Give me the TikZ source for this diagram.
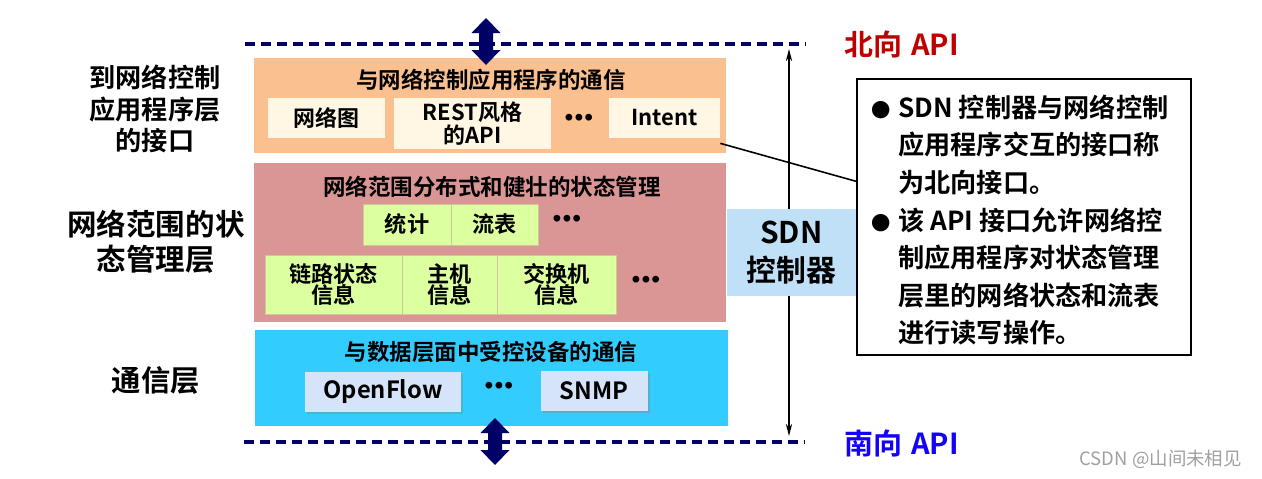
\documentclass[tikz,border=0pt]{standalone}
\usepackage{fontspec}
\setmainfont{Noto Sans CJK SC}[BoldFont={Noto Sans CJK SC Bold}]
\newfontfamily\dotfont{Liberation Sans}
\usetikzlibrary{arrows.meta,shadows}

\definecolor{apinavy}{HTML}{000066}
\definecolor{northred}{HTML}{C00000}
\definecolor{southblue}{HTML}{1400FF}
\definecolor{appfill}{HTML}{FAC090}
\definecolor{statelayer}{HTML}{D99694}
\definecolor{commfill}{HTML}{33CCFF}
\definecolor{creamfill}{HTML}{FFF6E3}
\definecolor{statefill}{HTML}{DCFFA0}
\definecolor{stateline}{HTML}{D2C49C}
\definecolor{protofill}{HTML}{D5E4F9}
\definecolor{ctrlfill}{HTML}{BFE0F6}
\definecolor{markgray}{HTML}{A0A0A0}

\def\pxu{0.02cm}
\def\threedots{•\kern0.9pt•\kern0.9pt•}
\def\bigdot{\llap{{\fontsize{11}{11}\selectfont ●}\hspace{4.5pt}}}

\begin{document}
\begin{tikzpicture}[
    x=0.02cm,y=-0.02cm,
    boxsize/.style args={#1x#2}{minimum width=#1*\pxu,minimum height=#2*\pxu},
    layerbox/.style={rectangle,inner sep=0,fill=#1},
    itembox/.style={
        rectangle,inner sep=0,fill=creamfill,align=center,
        font=\fontsize{12.5}{11.5}\selectfont\bfseries
    },
    statebox/.style={
        rectangle,inner sep=0,fill=statefill,draw=stateline,line width=0.5pt,
        align=center,font=\fontsize{12.6}{12.3}\selectfont\bfseries
    },
    protobox/.style={
        rectangle,inner sep=0,fill=protofill,
        drop shadow={shadow xshift=1.2pt,shadow yshift=-1.2pt,opacity=0.35},
        font=\fontsize{13.5}{14}\selectfont\bfseries
    },
    layertitle/.style={font=\fontsize{12.8}{14}\selectfont\bfseries},
    sidelabel/.style args={#1/#2}{align=center,font=\fontsize{#1}{#2}\selectfont\bfseries},
    moredots/.style={font=\dotfont\fontsize{13.5}{13.5}\selectfont\bfseries,inner sep=0},
    dashline/.style={apinavy,line width=1.9pt,dash pattern=on 5.7pt off 3.4pt},
    apiarrow/.style={fill=apinavy},
    ctrlarrow/.style={
        line width=0.85pt,
        {Stealth[length=7pt,width=3.6pt]}-{Stealth[length=7pt,width=3.6pt]}
    },
    apilabel/.style={font=\fontsize{16.5}{18}\selectfont\bfseries,text=#1}
]
\useasboundingbox (0,0) rectangle (1262,478);

% ------------------------------------------------
% Layers
% ------------------------------------------------
\node[layerbox=appfill,boxsize=472x95] (applayer) at (490,105.5) {};
\node[layerbox=statelayer,boxsize=472x159] (statelayer) at (490,242) {};
\node[layerbox=commfill,boxsize=473x96] (commlayer) at (491,378) {};

% ------------------------------------------------
% Northbound / southbound borders
% ------------------------------------------------
\coordinate (northL) at (245,44);
\coordinate (northR) at (805,44);
\coordinate (southL) at (244,442);
\coordinate (southR) at (805,442);
\draw[dashline] (northL) -- (northR);
\draw[dashline] (southL) -- (southR);

\foreach \ax/\ay in {486/18,495/418}
    \fill[apiarrow] (\ax,\ay) -- ++(14.5,15) -- ++(-7.5,0) -- ++(0,17)
        -- ++(7.5,0) -- ++(-14.5,15) -- ++(-14.5,-15) -- ++(7.5,0)
        -- ++(0,-17) -- ++(-7.5,0) -- cycle;

\node[apilabel=northred,anchor=west] (northapi) at (838,44) {北向\hspace{1.5pt} API};
\node[apilabel=southblue,anchor=west] (southapi) at (838,443) {南向\hspace{1.5pt} API};

% ------------------------------------------------
% Application interface layer
% ------------------------------------------------
\node[layertitle] (apptitle) at (491,80) {与网络控制应用程序的通信};
\node[itembox,boxsize=117x40] (netgraph) at (326.5,118) {网络图};
\node[itembox,boxsize=157x51] (restapi) at (472.5,123.5) {REST风格\\的API};
\node[moredots] (appdots) at (579,120) {\threedots};
\node[itembox,boxsize=111x40] (intent) at (664.5,118) {Intent};

% ------------------------------------------------
% State management layer
% ------------------------------------------------
\node[layertitle] (statetitle) at (492,187) {网络范围分布式和健壮的状态管理};
\node[statebox,boxsize=88x41] (stats) at (407,224.5) {统计};
\node[statebox,boxsize=87x41] (flows) at (494.5,224.5) {流表};
\node[moredots] (statedots) at (567,221) {\threedots};
\node[statebox,boxsize=137x59] (linkinfo) at (333.5,284.5) {链路状态\\信息};
\node[statebox,boxsize=95x59] (hostinfo) at (449.5,284.5) {主机\\信息};
\node[statebox,boxsize=119x59] (switchinfo) at (556.5,284.5) {交换机\\信息};
\node[moredots] (infodots) at (646,282) {\threedots};

% ------------------------------------------------
% Communication layer
% ------------------------------------------------
\node[layertitle] (commtitle) at (491,352) {与数据层面中受控设备的通信};
\node[protobox,boxsize=156x40] (openflow) at (383,392) {OpenFlow};
\node[moredots] (commdots) at (499,388) {\threedots};
\node[protobox,boxsize=107x40] (snmp) at (594,391) {SNMP};

% ------------------------------------------------
% Layer names on the left
% ------------------------------------------------
\node[sidelabel=14.9/17.9] (applabel) at (155,109) {到网络控制\\应用程序层\\的接口};
\node[sidelabel=16.8/19.8] (statelabel) at (156,242) {网络范围的状\\态管理层};
\node[sidelabel=16.7/20] (commlabel) at (156,380) {通信层};

% ------------------------------------------------
% SDN controller and callout
% ------------------------------------------------
\coordinate (ctrltop) at (789,49);
\coordinate (ctrlbot) at (789,436);
\draw[ctrlarrow] (ctrltop) -- (ctrlbot);

\node[rectangle,inner sep=0,fill=ctrlfill,boxsize=129x87,align=center,
      font=\fontsize{17}{22}\selectfont\bfseries] (sdnctrl) at (791.5,252.5)
    {SDN\\控制器};

\node[rectangle,draw,line width=1.1pt,fill=white,boxsize=334x276] (callout) at (1024,217) {};
\node[anchor=west,inner sep=0,align=left,
      font=\fontsize{14.9}{21.4}\selectfont\bfseries] (calltext) at (898,220)
    {\bigdot SDN 控制器与网络控制\\应用程序交互的接口称\\为北向接口。\\
     \bigdot 该 API 接口允许网络控\\制应用程序对状态管理\\层里的网络状态和流表\\进行读写操作。};

\draw[line width=0.9pt] ([shift={(0,5)}]intent.south east) -- (callout.168.5);

% watermark
\node[text=markgray,font=\fontsize{10.5}{12}\selectfont,anchor=east] (mark) at (1248,459)
    {CSDN @山间未相见};

\end{tikzpicture}
\end{document}
